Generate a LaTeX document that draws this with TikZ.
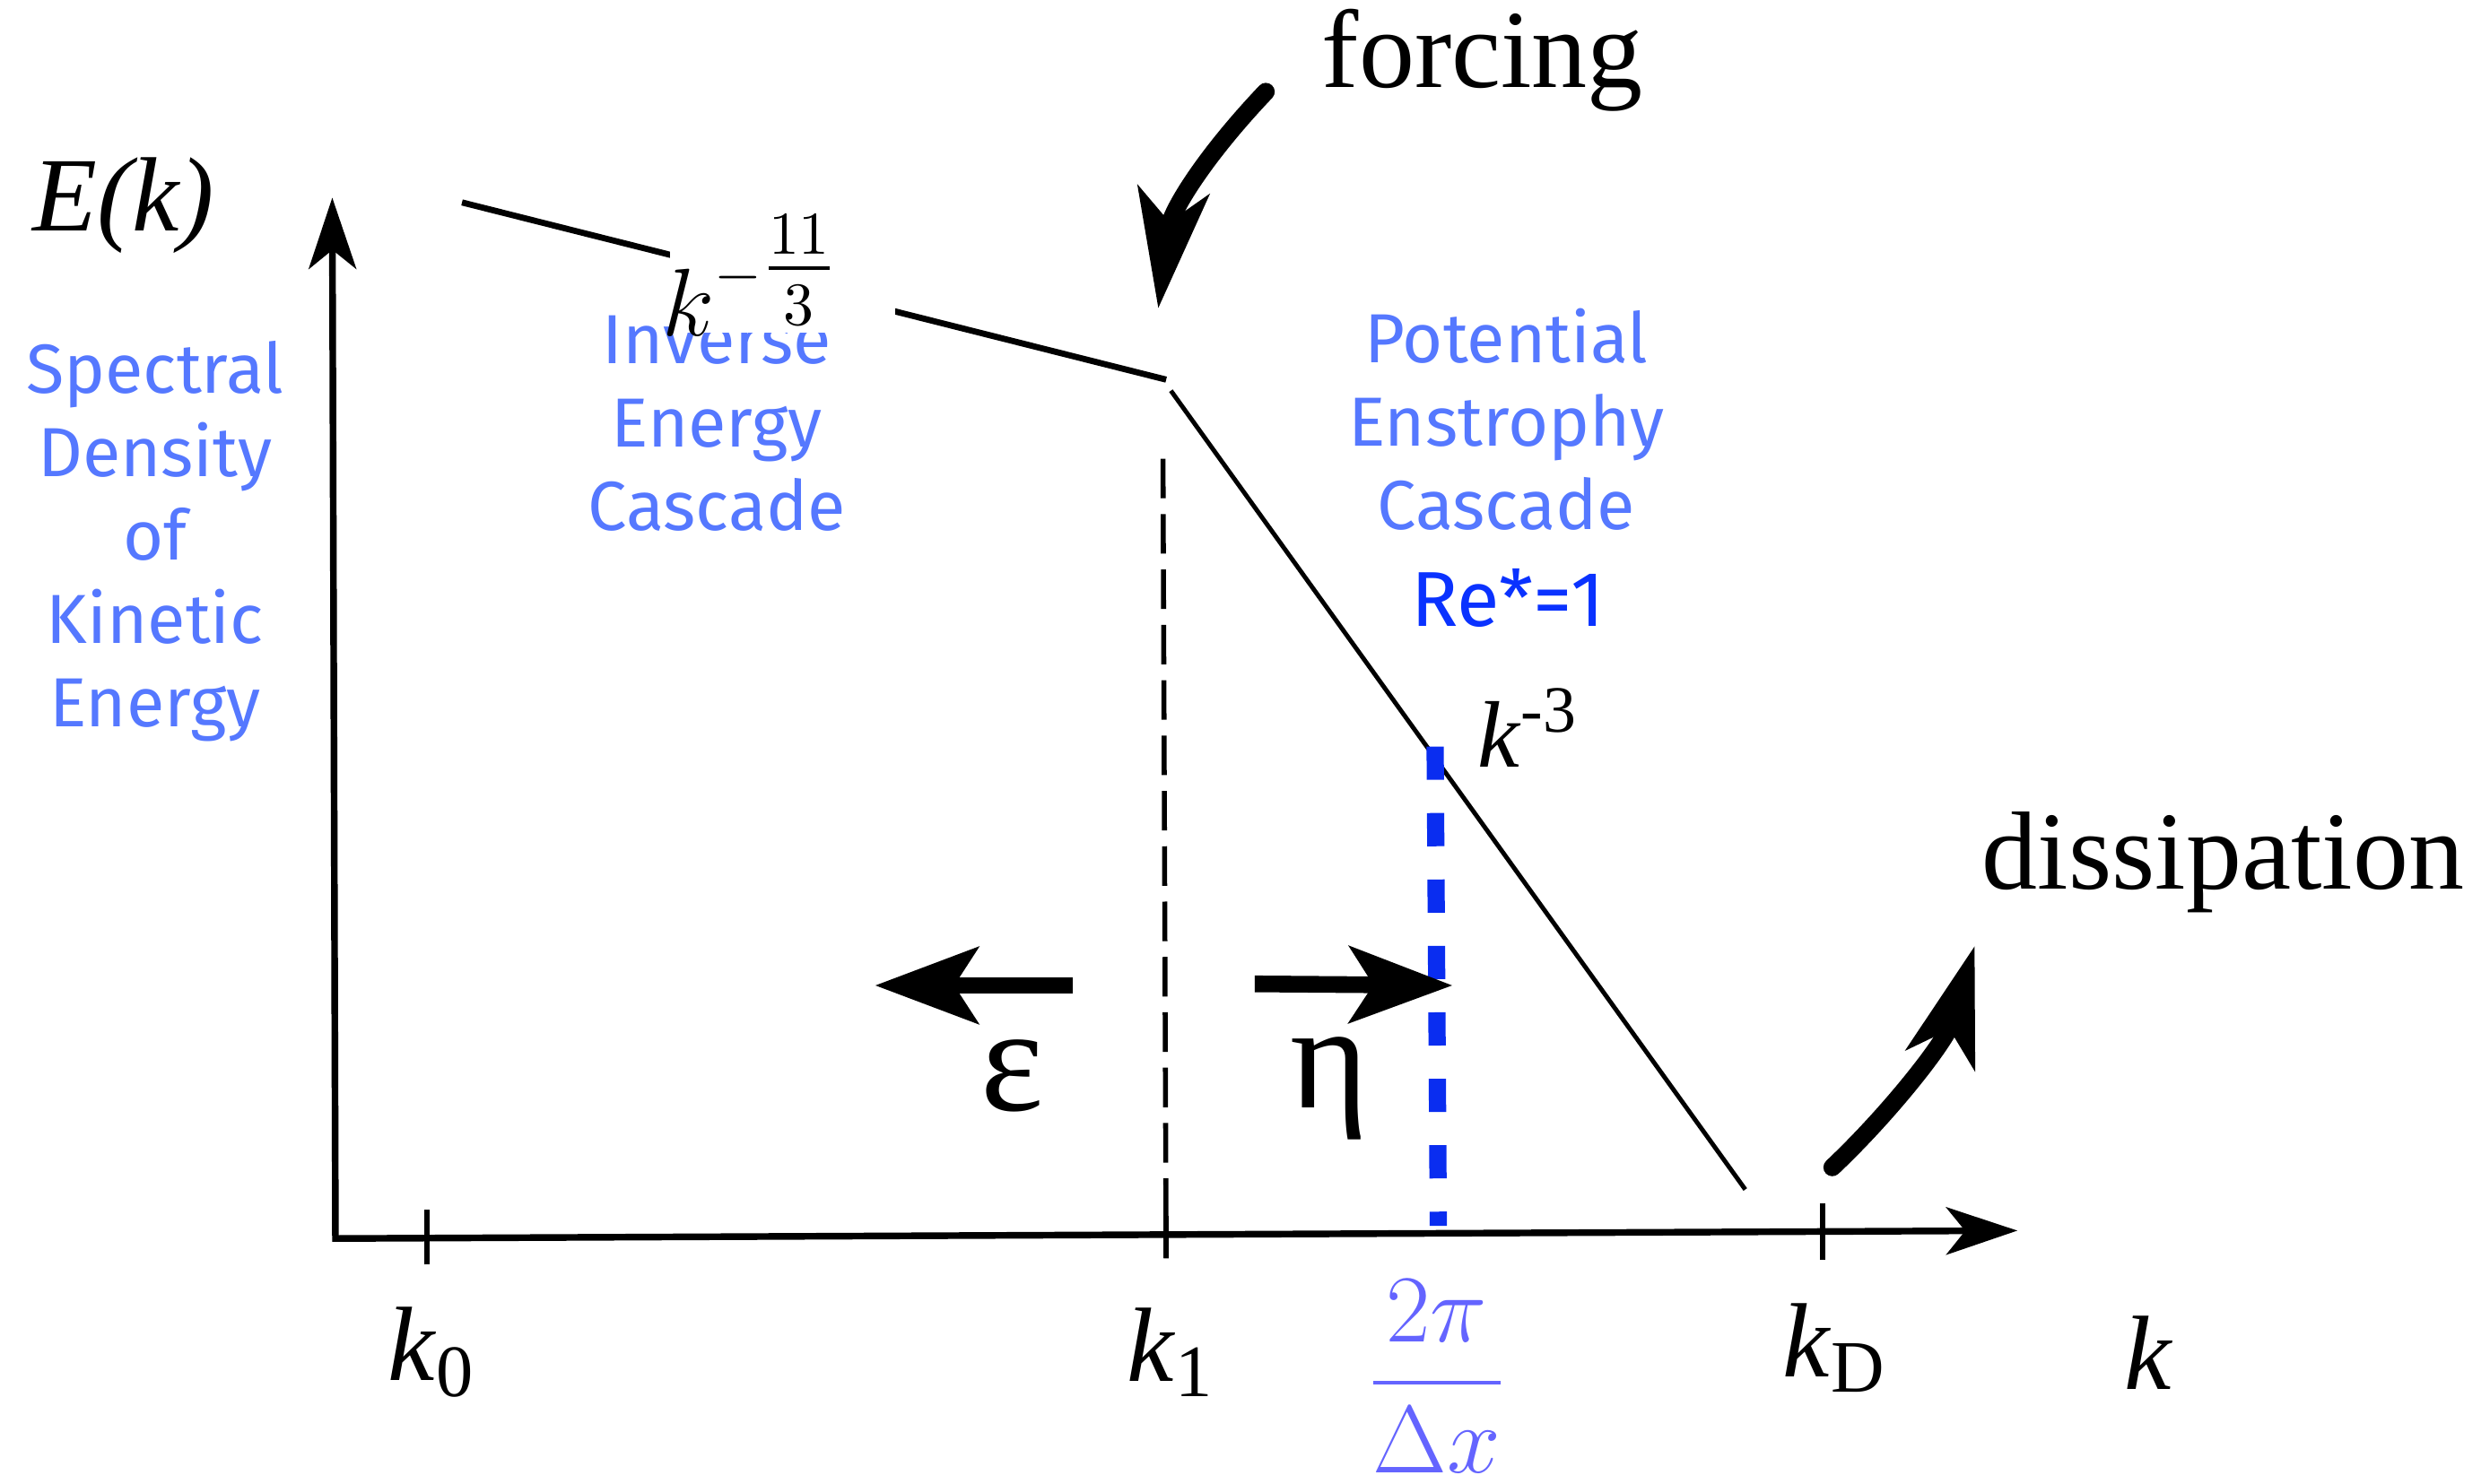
\documentclass[tikz,border=0pt]{standalone}
\usepackage{amsmath, amssymb}
\usepackage{xcolor}
\usepackage{fontspec}
\setmainfont{Liberation Serif}
\newfontfamily\bluefont{Fira Sans}
\usepackage{tikz}
\usetikzlibrary{arrows.meta,positioning,calc}
\definecolor{labelblue}{RGB}{85,120,255}
\definecolor{reblue}{RGB}{10,50,255}
\definecolor{cutblue}{RGB}{10,45,240}
\definecolor{fracblue}{RGB}{100,100,255}

\begin{document}
\begin{tikzpicture}[
    blue_label/.style = {text=labelblue, align=center, font=\bluefont\fontsize{12.5}{15}\selectfont},
    tick_label/.style = {font=\fontsize{19}{21}\selectfont},
    word_label/.style = {font=\fontsize{20}{22}\selectfont},
    greek_label/.style = {font=\fontsize{27}{29}\selectfont},
    axis_line/.style = {line width=1.2pt, line join=miter,
        {Stealth[length=0.45cm, width=0.3cm, inset=0.12cm]}-{Stealth[length=0.45cm, width=0.3cm, inset=0.12cm]}},
    tick_mark/.style = {line width=1pt},
    flux_arrow/.style = {line width=3pt, -{Stealth[length=0.65cm, width=0.48cm, inset=0.15cm]}},
    curved_arrow/.style = {line width=3.2pt, line cap=round, -{Stealth[length=0.75cm, width=0.45cm, inset=0.2cm]}},
    cut_line/.style = {cutblue, line width=3.1pt, dash pattern=on 0.21cm off 0.21cm}
]
    \useasboundingbox (0,0) rectangle (15.68,9.38);

    % axes
    \coordinate (O) at (2.12,1.55);
    \coordinate (ytop) at (2.10,8.13);
    \coordinate (xend) at (12.75,1.60);
    \draw[axis_line] (ytop) -- (O) -- (xend);

    % ticks on the k axis
    \coordinate (k0) at (2.70,1.555);
    \coordinate (k1) at (7.37,1.575);
    \coordinate (kD) at (11.52,1.594);
    \draw[tick_mark] ([yshift=-0.17cm]k0) -- ([yshift=0.18cm]k0);
    \draw[tick_mark] ([yshift=-0.15cm]k1) -- ([yshift=0.12cm]k1);
    \draw[tick_mark] ([yshift=-0.18cm]kD) -- ([yshift=0.18cm]kD);

    \node[tick_label] (k0label) at (2.73,0.83) {\textit{k}\textsubscript{0}};
    \node[tick_label] (k1label) at (7.40,0.83) {\textit{k}\textsubscript{1}};
    \node[tick_label] (kDlabel) at (11.60,0.86) {\textit{k}\textsubscript{D}};
    \node[tick_label] (klabel) at (13.58,0.83) {\textit{k}};
    \node[tick_label] (Ek) at (0.78,8.08) {\textit{E(k)}};
    \node[text=fracblue, font=\fontsize{16}{18}\selectfont] (dx) at (9.08,0.68) {$\dfrac{2\pi}{\Delta x}$};

    % spectrum
    \coordinate (s0) at (2.92,8.10);
    \coordinate (s1) at (7.37,6.98);
    \coordinate (s2) at (7.40,6.91);
    \coordinate (s3) at (11.03,1.86);
    \draw[line width=1.1pt] (s0) -- (s1);
    \draw[line width=0.8pt] (s2) -- (s3);

    % forcing scale and grid cut-off
    \coordinate (k1top) at (7.35,6.48);
    \draw[line width=0.9pt, dash pattern=on 0.25cm off 0.1cm] (k1top) -- ([yshift=-0.15cm]k1);
    \coordinate (cut) at (9.07,4.66);
    \coordinate (cutfoot) at (9.09,1.63);
    \draw[cut_line] (cut) -- (cutfoot);

    \node[tick_label, font=\fontsize{17}{19}\selectfont] (slope_b) at (9.66,4.78) {\textit{k}\textsuperscript{-3}};

    % blue notes
    \node[blue_label] (spectral) at (0.98,5.96) {Spectral\\Density\\of\\Kinetic\\Energy};
    \node[blue_label] (inverse) at (4.53,6.70) {Inverse\\Energy\\Cascade};
    \node[blue_label] (potential) at (9.52,6.73) {Potential\\Enstrophy\\Cascade};
    \node[text=reblue, font=\bluefont\fontsize{14}{16}\selectfont] (re) at (9.53,5.60) {Re*=1};

    % slope label on its white patch
    \node[fill=white, minimum width=1.42cm, minimum height=1.64cm, anchor=south west, inner sep=0pt] (slopebox) at (4.23,7.27) {};
    \node[anchor=south west, inner sep=0pt, font=\fontsize{16}{18}\selectfont] (slope_a) at (4.18,7.25) {$k^{-\tfrac{11}{3}}$};

    % cascades
    \coordinate (eps_tail) at (6.78,3.15);
    \coordinate (eps_head) at (5.53,3.15);
    \coordinate (eta_tail) at (7.93,3.16);
    \coordinate (eta_head) at (9.18,3.15);
    \draw[flux_arrow] (eps_tail) -- (eps_head);
    \draw[flux_arrow] (eta_tail) -- (eta_head);
    \node[greek_label] (eps) at (6.40,2.58) {ε};
    \node[greek_label] (eta) at (8.40,2.50) {η};

    % forcing and dissipation
    \node[word_label] (forcing) at (9.37,9.00) {forcing};
    \coordinate (force_tail) at (8.00,8.80);
    \coordinate (force_head) at (7.32,7.43);
    \draw[curved_arrow] (force_tail) .. controls (7.62,8.40) and (7.40,8.05) .. (force_head);

    \node[word_label] (dissipation) at (14.05,3.93) {dissipation};
    \coordinate (diss_tail) at (11.58,2.00);
    \coordinate (diss_head) at (12.48,3.40);
    \draw[curved_arrow] (diss_tail) .. controls (11.95,2.35) and (12.30,2.80) .. (diss_head);
\end{tikzpicture}
\end{document}
